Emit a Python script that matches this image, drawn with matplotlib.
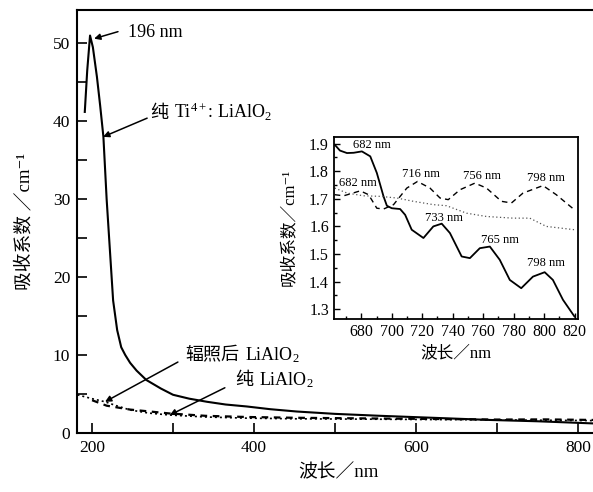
import matplotlib
matplotlib.use("Agg")
import matplotlib.pyplot as plt
from matplotlib.ticker import MultipleLocator

FAM = ['Liberation Serif', 'DejaVu Serif', 'Noto Sans CJK SC']
plt.rcParams['font.family'] = FAM
plt.rcParams['mathtext.fontset'] = 'custom'
plt.rcParams['mathtext.rm'] = 'Liberation Serif'
plt.rcParams['mathtext.it'] = 'Liberation Serif:italic'
plt.rcParams['axes.unicode_minus'] = True

# ---- main spectrum data ----
wl_ti = [191, 194, 197.5, 201, 206, 210, 214, 218, 222, 226, 231, 236, 241, 247, 255, 267, 285, 300,
         320, 342, 365, 391, 420, 453, 500, 556, 620, 691, 750, 815, 826]
abs_ti = [41.2, 46.5, 51.0, 49.5, 45.7, 42.0, 38.0, 30.0, 23.5, 17.0, 13.2, 11.0, 10.0, 9.0, 8.0, 6.8,
          5.7, 4.9, 4.4, 4.0, 3.65, 3.4, 3.05, 2.75, 2.45, 2.2, 1.95, 1.67, 1.5, 1.24, 1.2]

wl_irr = [182, 189, 200, 216, 230, 247, 270, 296, 340, 391, 450, 556, 620, 700, 760, 826]
abs_irr = [4.9, 4.7, 4.4, 4.0, 3.5, 2.95, 2.55, 2.3, 2.05, 1.9, 1.82, 1.76, 1.72, 1.68, 1.63, 1.58]

wl_pure = [200, 218, 247, 267, 296, 340, 391, 450, 556, 620, 700, 760, 826]
abs_pure = [4.2, 3.5, 3.0, 2.8, 2.5, 2.2, 2.05, 1.95, 1.85, 1.8, 1.72, 1.74, 1.66]

# ---- inset data ----
in_wl_ti = [662.6, 666, 670.6, 675, 680.4, 685.9, 690.2, 694.6, 696.8, 700, 705.5, 708.8, 713.1, 720.8,
            727.3, 732.8, 738.2, 745.9, 751.3, 757.8, 764.4, 770.9, 777.5, 785, 792.7, 800.4, 805.8,
            812.4, 820]
in_abs_ti = [1.896, 1.875, 1.866, 1.867, 1.872, 1.854, 1.794, 1.709, 1.675, 1.666, 1.663, 1.642, 1.588,
             1.558, 1.600, 1.610, 1.576, 1.491, 1.485, 1.521, 1.527, 1.479, 1.406, 1.376, 1.418, 1.434,
             1.406, 1.334, 1.273]

in_wl_pure = [662.6, 668.4, 674, 679.3, 684.8, 690.2, 694.6, 701.2, 709.9, 716.9, 725.1, 731.7, 737.1,
              744.8, 754.6, 762.2, 772, 778.6, 786.2, 799.3, 808, 820]
in_abs_pure = [1.715, 1.711, 1.72, 1.729, 1.715, 1.666, 1.663, 1.679, 1.739, 1.763, 1.739, 1.703, 1.697,
               1.733, 1.757, 1.739, 1.691, 1.685, 1.721, 1.748, 1.715, 1.660]

in_wl_irr = [662.6, 670.6, 681.5, 692.4, 703.3, 714.2, 727.3, 736, 749.1, 762.2, 779.6, 790.6, 801.5, 820]
in_abs_irr = [1.739, 1.721, 1.711, 1.709, 1.703, 1.691, 1.679, 1.675, 1.648, 1.636, 1.630, 1.630, 1.600, 1.588]

fig = plt.figure(figsize=(5.93, 4.92), dpi=100)

# ---- main axes ----
ax = fig.add_axes([0.130, 0.120, 0.880, 0.860])
ax.plot(wl_ti, abs_ti, color='k', lw=1.5, solid_joinstyle='round')
ax.plot(wl_irr, abs_irr, color='k', lw=1.2, ls=(0, (1.2, 1.8)))
ax.plot(wl_pure, abs_pure, color='k', lw=1.6, ls=(0, (3, 2.5)))
ax.set_xlim(181.5, 826)
ax.set_ylim(0, 54.3)
ax.xaxis.set_major_locator(MultipleLocator(200))
ax.xaxis.set_minor_locator(MultipleLocator(100))
ax.yaxis.set_major_locator(MultipleLocator(10))
ax.yaxis.set_minor_locator(MultipleLocator(5))
ax.tick_params(which='both', direction='in', top=False, right=False, labelsize=12.5, width=1.2)
ax.tick_params(which='major', length=7, pad=5)
ax.tick_params(which='minor', length=7)
for s in ax.spines.values():
    s.set_linewidth(1.5)
ax.set_xlabel('波长／nm', fontsize=13.5, labelpad=6)
ax.set_ylabel('吸收系数 ／cm⁻¹', fontsize=13.5, labelpad=14)


def ctext(axis, x, y, cjk, latin, fs):
    if cjk:
        t1 = axis.text(x, y, cjk, fontsize=fs, ha='left', va='baseline')
        axis.annotate(latin, xy=(1, y), xycoords=(t1, 'data'), xytext=(4, 0),
                      textcoords='offset points', fontsize=fs, ha='left', va='baseline')
    else:
        axis.text(x, y, latin, fontsize=fs, ha='left', va='baseline')


aprops = dict(arrowstyle='-|>', color='k', lw=1.1, mutation_scale=9, shrinkA=0, shrinkB=0)
ax.annotate('', xy=(202.5, 50.6), xytext=(232, 51.5), arrowprops=aprops)
ctext(ax, 244, 50.8, '', '196 nm', 13)
ax.annotate('', xy=(213.6, 38.0), xytext=(268, 40.4), arrowprops=aprops)
ctext(ax, 272, 40.4, '纯', 'Ti$^{4+}$: LiAlO$_2$', 13)
ax.annotate('', xy=(216, 4.0), xytext=(306, 9.1), arrowprops=aprops)
ctext(ax, 315, 9.3, '辐照后', 'LiAlO$_2$', 13)
ax.annotate('', xy=(296, 2.3), xytext=(364, 5.8), arrowprops=aprops)
ctext(ax, 377, 6.1, '纯', 'LiAlO$_2$', 13)

# ---- inset ----
ins = fig.add_axes([0.563, 0.352, 0.411, 0.370])
ins.plot(in_wl_ti, in_abs_ti, color='k', lw=1.3)
ins.plot(in_wl_pure, in_abs_pure, color='k', lw=1.0, ls=(0, (4, 3)))
ins.plot(in_wl_irr, in_abs_irr, color='#555555', lw=0.9, ls=(0, (1, 2)))
ins.set_xlim(662, 822)
ins.set_ylim(1.265, 1.925)
ins.xaxis.set_major_locator(MultipleLocator(20))
ins.xaxis.set_minor_locator(MultipleLocator(10))
ins.yaxis.set_major_locator(MultipleLocator(0.1))
ins.yaxis.set_minor_locator(MultipleLocator(0.05))
ins.tick_params(which='both', direction='in', labelsize=11.5, width=1.0)
ins.tick_params(which='major', length=4)
ins.tick_params(which='minor', length=2.5)
for s in ins.spines.values():
    s.set_linewidth(1.3)
ins.set_xlabel('波长／nm', fontsize=12, labelpad=4)
ins.set_ylabel('吸收系数／cm⁻¹', fontsize=12, labelpad=9)

fs = 9
ins.text(687.2, 1.896, '682 nm', fontsize=fs, ha='center', va='center')
ins.text(678, 1.758, '682 nm', fontsize=fs, ha='center', va='center')
ins.text(719.2, 1.791, '716 nm', fontsize=fs, ha='center', va='center')
ins.text(759.1, 1.784, '756 nm', fontsize=fs, ha='center', va='center')
ins.text(801, 1.777, '798 nm', fontsize=fs, ha='center', va='center')
ins.text(734.3, 1.631, '733 nm', fontsize=fs, ha='center', va='center')
ins.text(770.9, 1.552, '765 nm', fontsize=fs, ha='center', va='center')
ins.text(801, 1.468, '798 nm', fontsize=fs, ha='center', va='center')

fig.savefig('out.png', dpi=100)
